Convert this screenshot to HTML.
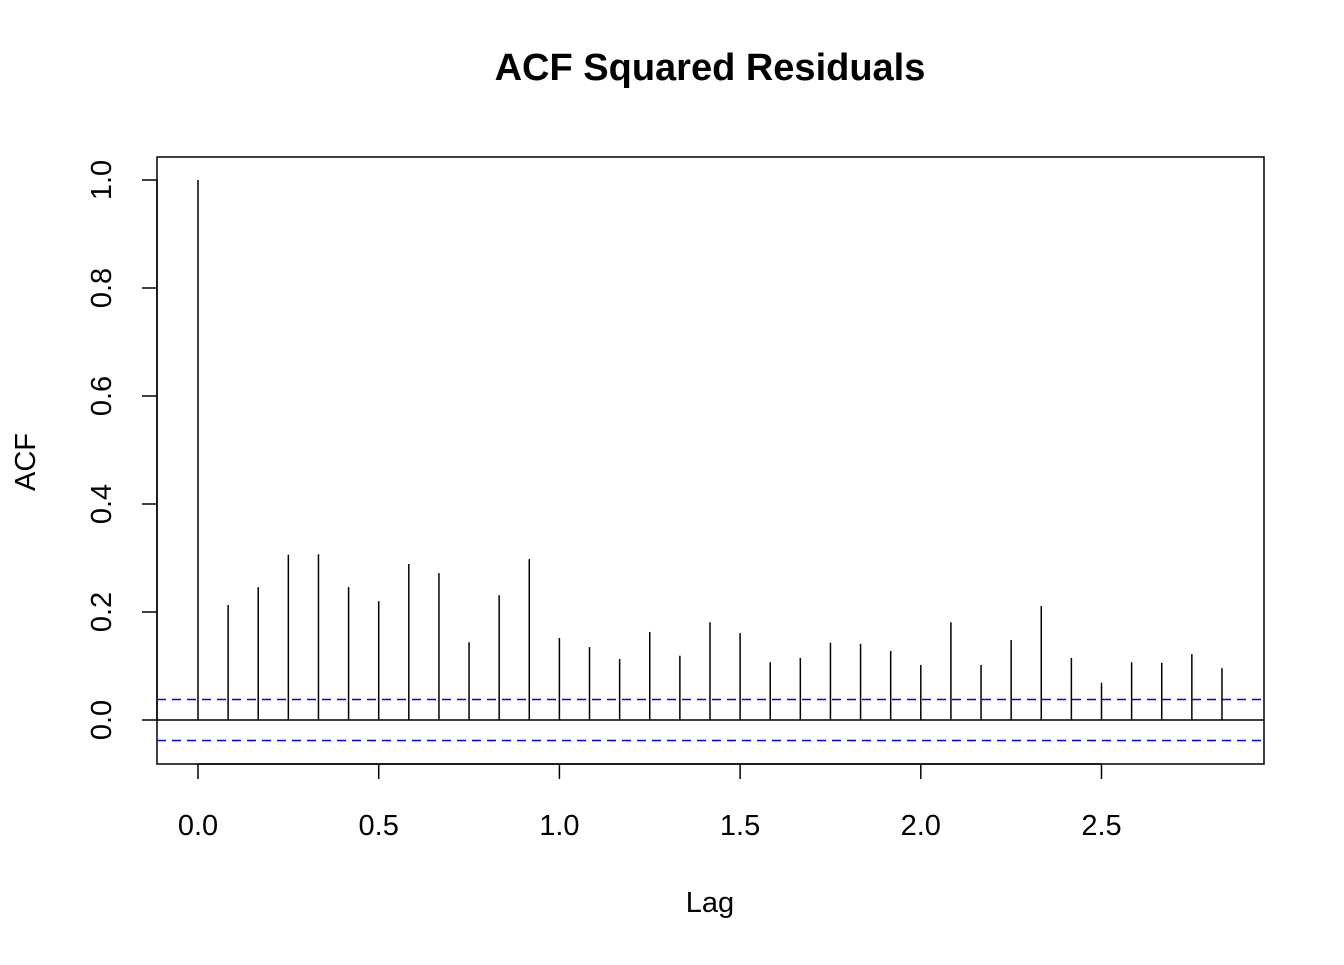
<!DOCTYPE html>
<html><head><meta charset="utf-8"><style>
body{margin:0;background:#fff}
svg text{font-family:"Liberation Sans",Arial,sans-serif;fill:#000}
</style></head><body>
<svg id="chart" width="1344" height="960" xmlns="http://www.w3.org/2000/svg">
<text x="710" y="80" text-anchor="middle" font-size="38" font-weight="bold">ACF Squared Residuals</text>
<rect x="157" y="157" width="1107" height="607" fill="none" stroke="#000" stroke-width="1.5"/>
<g id="xaxis"></g>
<g id="yaxis"></g>
<g id="bars"></g>
<text x="710" y="912" text-anchor="middle" font-size="29">Lag</text>
<text transform="translate(35,462) rotate(-90)" text-anchor="middle" font-size="29">ACF</text>
</svg>
<script>
const acfValues=[1.0,0.213,0.246,0.306,0.307,0.246,0.220,0.289,0.272,0.144,0.231,0.298,0.152,0.135,0.113,0.163,0.119,0.181,0.161,0.107,0.115,0.143,0.141,0.128,0.102,0.181,0.102,0.148,0.211,0.115,0.069,0.107,0.106,0.122,0.096];
const xTicks=[0,0.5,1,1.5,2,2.5];
const xTickLabels=["0.0","0.5","1.0","1.5","2.0","2.5"];
const yTicks=[0,0.2,0.4,0.6,0.8,1.0];
const yTickLabels=["0.0","0.2","0.4","0.6","0.8","1.0"];
const ciBound=0.038;
const lagStep=1/12;

const NS="http://www.w3.org/2000/svg";
const xs=v=>198+v*361.4;
const ys=v=>720-v*540;
function mk(tag,attrs,parent){const e=document.createElementNS(NS,tag);for(const k in attrs)e.setAttribute(k,attrs[k]);parent.appendChild(e);return e;}
const xa=document.getElementById('xaxis'),ya=document.getElementById('yaxis'),bg=document.getElementById('bars');
mk('line',{x1:xs(xTicks[0]),x2:xs(xTicks[xTicks.length-1]),y1:764,y2:764,stroke:'#000','stroke-width':1.5},xa);
xTicks.forEach((t,i)=>{
  const l=mk('line',{x1:xs(t),x2:xs(t),y1:764,y2:779,stroke:'#000','stroke-width':1.5},xa);
  
  
  const tx=mk('text',{x:xs(t),y:835,'text-anchor':'middle','font-size':29},xa);tx.textContent=xTickLabels[i];
  
  
});
mk('line',{x1:157,x2:157,y1:ys(yTicks[0]),y2:ys(yTicks[yTicks.length-1]),stroke:'#000','stroke-width':1.5},ya);
yTicks.forEach((t,i)=>{
  const l=mk('line',{x1:142,x2:157,y1:ys(t),y2:ys(t),stroke:'#000','stroke-width':1.5},ya);
  
  
  const tx=mk('text',{transform:`translate(111,${ys(t)}) rotate(-90)`,'text-anchor':'middle','font-size':29},ya);tx.textContent=yTickLabels[i];
  
  
});
const z=mk('line',{x1:157,x2:1264,y1:ys(0),y2:ys(0),stroke:'#000','stroke-width':1.5},bg);


[ciBound,-ciBound].forEach(c=>{
  const l=mk('line',{x1:157,x2:1264,y1:ys(c),y2:ys(c),stroke:'#0000ff','stroke-width':1.5,'stroke-dasharray':'9,6'},bg);
  
  
});
acfValues.forEach((v,i)=>{
  const x=xs(i*lagStep);
  const l=mk('line',{x1:x,x2:x,y1:ys(0),y2:ys(v),stroke:'#000','stroke-width':1.5},bg);
  
  
});
</script>
</body></html>
